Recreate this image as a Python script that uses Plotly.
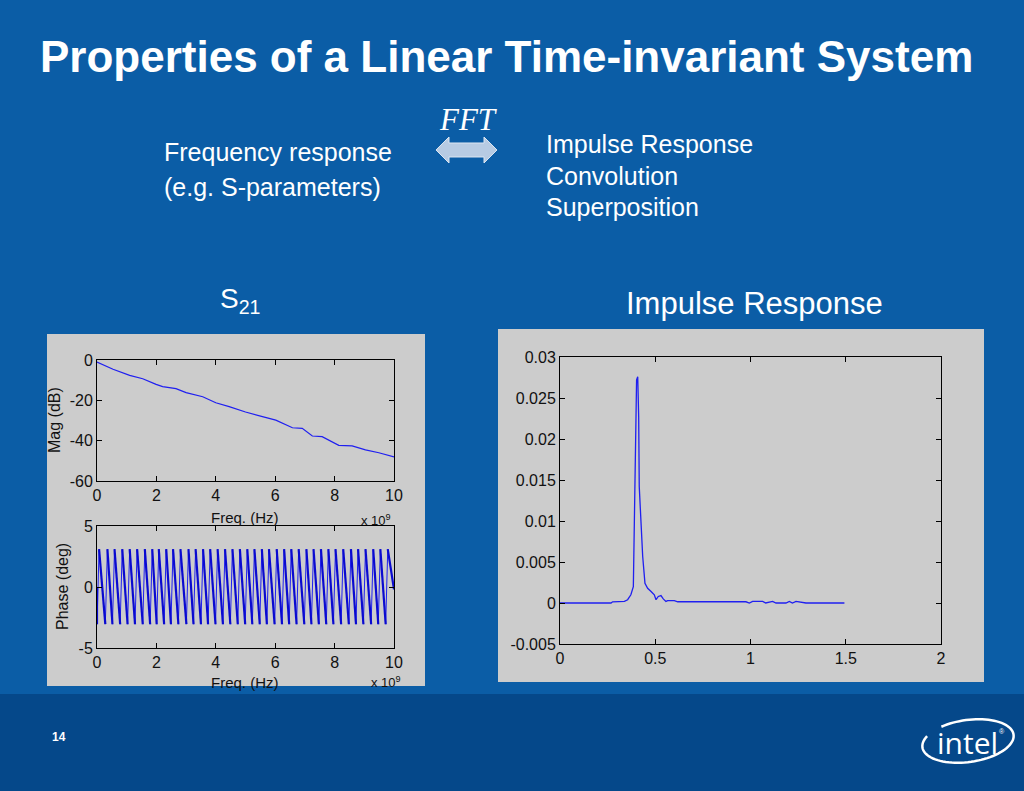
import math
import plotly.graph_objects as go

W, H = 1024, 791


def px(x):
    return x / W


def py(y):
    return 1 - y / H


# ---------------- data ----------------
mag_freq = [0, 0.54, 1.1, 1.54, 1.99, 2.21, 2.66, 3.0, 3.56, 4.0, 4.45, 5.0,
            5.57, 6.02, 6.58, 6.91, 7.25, 7.58, 8.14, 8.59, 9.04, 9.49, 10]
mag_db = [-1, -4.6, -7.6, -9.3, -12.1, -13.2, -14.2, -16.2, -18.2, -21.2, -23.1,
          -25.8, -28.1, -29.8, -33.6, -33.9, -37.7, -38.0, -42.3, -42.6, -44.6,
          -46.0, -48.0]

# frequencies (x1e9 Hz) of the phase peaks (top of each -pi -> +pi wrap)
peak_freq = [0.07, 0.35, 0.59, 0.85, 1.10, 1.35, 1.61, 1.86, 2.08, 2.33, 2.56,
             2.81, 3.08, 3.32, 3.57, 3.81, 4.06, 4.31, 4.56, 4.81, 5.06, 5.30,
             5.55, 5.79, 6.05, 6.30, 6.54, 6.79, 7.05, 7.29, 7.54, 7.79, 8.03,
             8.29, 8.55, 8.79, 9.04, 9.30, 9.54, 9.79]
jump_width = 0.07          # frequency span of each wrap (sample spacing)
phase_start = 0.0
phase_low = -3.05
phase_high = 3.1
phase_end = -0.2

imp_t = [0, 0.268, 0.276, 0.338, 0.355, 0.372, 0.385, 0.395, 0.402, 0.408, 0.413,
         0.416, 0.425, 0.434, 0.446, 0.46, 0.478, 0.495, 0.504, 0.516, 0.53, 0.542,
         0.556, 0.565, 0.6, 0.618, 0.976, 0.994, 1.011, 1.064, 1.08, 1.116, 1.134,
         1.186, 1.204, 1.22, 1.239, 1.274, 1.291, 1.493]
imp_v = [0, 0, 0.00015, 0.0002, 0.0004, 0.001, 0.002, 0.0142, 0.0272, 0.0276,
         0.0227, 0.0142, 0.0089, 0.0057, 0.0024, 0.0018, 0.0014, 0.001, 0.0004,
         0.0008, 0.0009, 0.0005, 0.0002, 0.0003, 0.0003, 0.00015, 0.00015, 0,
         0.0002, 0.0002, 0, 0.0002, 0, 0, 0.0002, 0, 0.0002, 0.0001, 0, 0]

mag_xticks = [0, 2, 4, 6, 8, 10]
mag_yticks = [-60, -40, -20, 0]
mag_ytext = ["-60", "-40", "-20", "0"]
ph_yticks = [-5, 0, 5]
ph_ytext = ["-5", "0", "5"]
imp_xticks = [0, 0.5, 1, 1.5, 2]
imp_xtext = ["0", "0.5", "1", "1.5", "2"]
imp_yticks = [-0.005, 0, 0.005, 0.01, 0.015, 0.02, 0.025, 0.03]
imp_ytext = ["-0.005", "0", "0.005", "0.01", "0.015", "0.02", "0.025", "0.03"]

# phase polylines built from the read peak points:
# descending ramps (drawn heavier) and wrap jumps (thin)
ramp_x, ramp_y = [0], [phase_start]
jump_x, jump_y = [], []
for f in peak_freq:
    ramp_x += [f - jump_width, None, f]
    ramp_y += [phase_low, None, phase_high]
    jump_x += [f - jump_width, f, None]
    jump_y += [phase_low, phase_high, None]
ramp_x.append(10)
ramp_y.append(phase_end)

BLUE_BG = "#0B5DA6"
BAND = "#05488A"
PANEL = "#CCCCCC"
LINE = "#1F1FF0"
FONT = "Liberation Sans"

fig = go.Figure()
fig.add_trace(go.Scatter(x=mag_freq, y=mag_db, mode="lines",
                         line=dict(color=LINE, width=1.2), xaxis="x", yaxis="y",
                         hoverinfo="skip"))
fig.add_trace(go.Scatter(x=jump_x, y=jump_y, mode="lines", connectgaps=False,
                         line=dict(color=LINE, width=1.0), xaxis="x2", yaxis="y2",
                         hoverinfo="skip"))
fig.add_trace(go.Scatter(x=ramp_x, y=ramp_y, mode="lines", connectgaps=False,
                         line=dict(color="#0A0AD0", width=2.2), xaxis="x2",
                         yaxis="y2", hoverinfo="skip"))
fig.add_trace(go.Scatter(x=imp_t, y=imp_v, mode="lines",
                         line=dict(color=LINE, width=1.3), xaxis="x3", yaxis="y3",
                         hoverinfo="skip"))

ax = dict(showgrid=False, zeroline=False, showline=True, linecolor="black",
          linewidth=1, mirror="allticks", ticks="inside", ticklen=5,
          tickcolor="black", tickfont=dict(family=FONT, size=16, color="#111111"),
          fixedrange=True, automargin=False)

fig.update_layout(
    width=W, height=H, autosize=False,
    margin=dict(l=0, r=0, t=0, b=0, pad=0, autoexpand=False),
    paper_bgcolor=BLUE_BG, plot_bgcolor="white", showlegend=False,
    xaxis=dict(ax, domain=[px(97), px(394)], range=[0, 10], tickvals=mag_xticks,
               anchor="y"),
    yaxis=dict(ax, domain=[py(481), py(360)], range=[-60, 0], tickvals=mag_yticks,
               ticktext=mag_ytext, anchor="x"),
    xaxis2=dict(ax, domain=[px(97), px(394)], range=[0, 10], tickvals=mag_xticks,
                anchor="y2"),
    yaxis2=dict(ax, domain=[py(648), py(526)], range=[-5, 5], tickvals=ph_yticks,
                ticktext=ph_ytext, anchor="x2"),
    xaxis3=dict(ax, domain=[px(560), px(941)], range=[0, 2], tickvals=imp_xticks,
                ticktext=imp_xtext, anchor="y3"),
    yaxis3=dict(ax, domain=[py(644), py(357)], range=[-0.005, 0.03],
                tickvals=imp_yticks, ticktext=imp_ytext, anchor="x3"),
)

shapes = []
# bottom band
shapes.append(dict(type="rect", xref="paper", yref="paper", x0=0, x1=1,
                   y0=0, y1=py(694), fillcolor=BAND, line=dict(width=0),
                   layer="below"))
# gray figure panels
shapes.append(dict(type="rect", xref="paper", yref="paper", x0=px(47), x1=px(425),
                   y0=py(686), y1=py(334), fillcolor=PANEL, line=dict(width=0),
                   layer="below"))
shapes.append(dict(type="rect", xref="paper", yref="paper", x0=px(498), x1=px(984),
                   y0=py(682), y1=py(329), fillcolor=PANEL, line=dict(width=0),
                   layer="below"))

# double arrow
arrow_pts = [(436, 150), (449, 137), (449, 143), (484, 143), (484, 137), (497, 150),
             (484, 163), (484, 157), (449, 157), (449, 163)]
path = "M " + " L ".join(f"{px(x):.5f},{py(y):.5f}" for x, y in arrow_pts) + " Z"
shapes.append(dict(type="path", xref="paper", yref="paper", path=path,
                   fillcolor="#B7CBE3", line=dict(color="#DCE6F2", width=1)))


# intel swoosh
def ellipse_path(cx, cy, rx, ry, rot_deg, a0, a1, n=80):
    r = math.radians(rot_deg)
    pts = []
    for i in range(n + 1):
        t = math.radians(a0 + (a1 - a0) * i / n)
        x = rx * math.cos(t)
        y = -ry * math.sin(t)
        pts.append((cx + x * math.cos(r) - y * math.sin(r),
                    cy + x * math.sin(r) + y * math.cos(r)))
    return "M " + " L ".join(f"{px(x):.5f},{py(y):.5f}" for x, y in pts)


shapes.append(dict(type="path", xref="paper", yref="paper",
                   path=ellipse_path(968, 741, 46, 21, -8, 150, 482),
                   line=dict(color="white", width=2.5)))

fig.update_layout(shapes=shapes)

ann = []


def text(x, y, s, size, color="white", xanchor="left", family=FONT, angle=0,
         yanchor="middle"):
    ann.append(dict(x=px(x), y=py(y), xref="paper", yref="paper", text=s,
                    showarrow=False, xanchor=xanchor, yanchor=yanchor,
                    textangle=angle, font=dict(family=family, size=size, color=color)))


text(38, 56, "<b>Properties of a Linear Time-invariant System</b>", 44)
text(468, 120, "<i>FFT</i>", 31, family="Liberation Serif", xanchor="center")
text(162, 152, "Frequency response", 25)
text(162, 187, "(e.g. S-parameters)", 25)
text(544, 144, "Impulse Response", 25)
text(544, 176, "Convolution", 25)
text(544, 207, "Superposition", 25)
text(218, 301, "S<sub>21</sub>", 28)
text(624, 303, "Impulse Response", 31)
text(50, 737, "<b>14</b>", 12)
text(967, 742, "intel", 30, family="Open Sans", xanchor="center")
text(1002, 731, "®", 7, xanchor="center")

DARK = "#111111"
text(54, 420, "Mag (dB)", 16, color=DARK, xanchor="center", angle=-90)
text(245, 517, "Freq. (Hz)", 15, color=DARK, xanchor="center")
text(376, 520, "x 10<sup>9</sup>", 13, color=DARK, xanchor="center")
text(62, 587, "Phase (deg)", 16, color=DARK, xanchor="center", angle=-90)
text(245, 682, "Freq. (Hz)", 15, color=DARK, xanchor="center")
text(386, 682, "x 10<sup>9</sup>", 13, color=DARK, xanchor="center")

fig.update_layout(annotations=ann)

fig.write_html("out.html", config={"displayModeBar": False, "staticPlot": True},
               post_script="document.body.style.margin='0';"
                           "document.body.style.overflow='hidden';")
